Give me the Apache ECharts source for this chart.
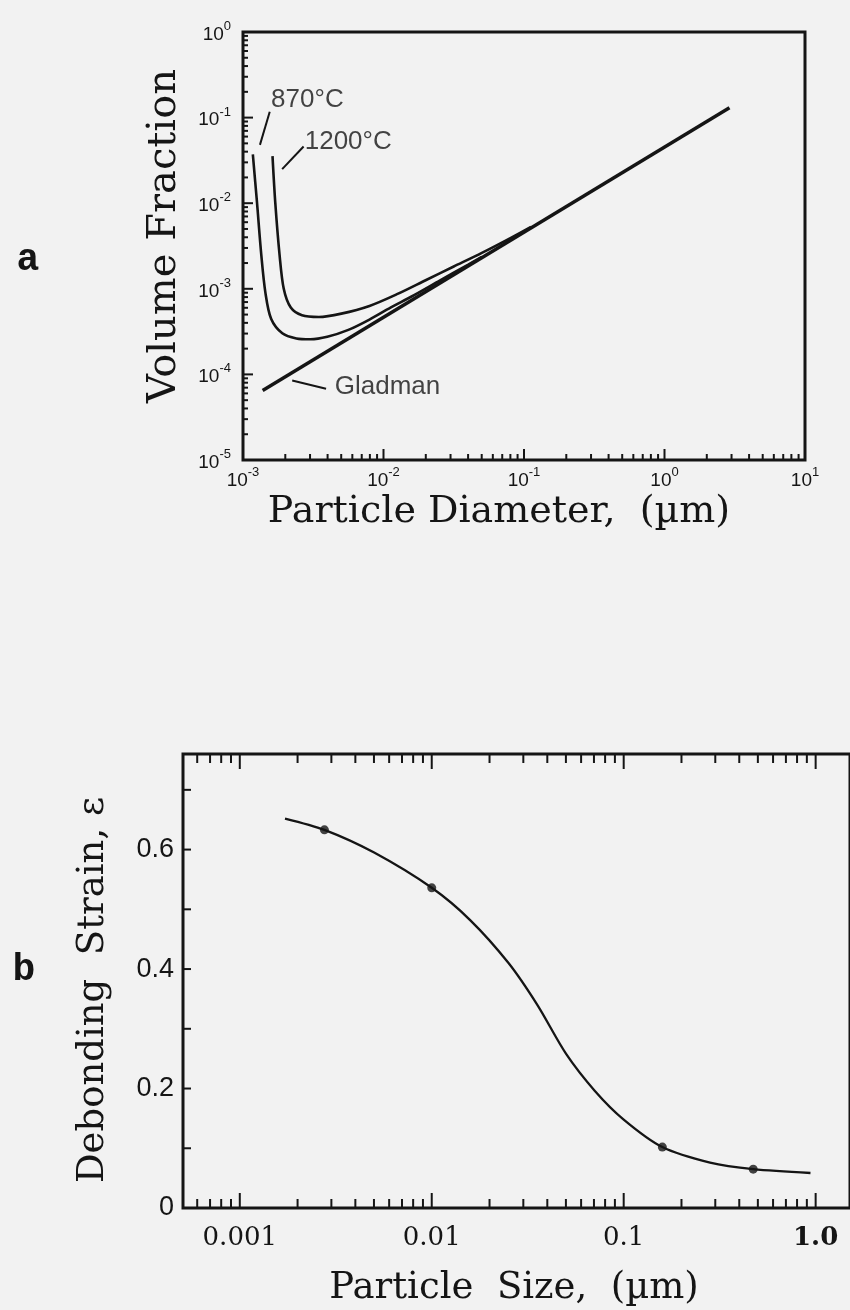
<!DOCTYPE html>
<html><head><meta charset="utf-8">
<script src="https://cdn.jsdelivr.net/npm/echarts@6/dist/echarts.min.js"></script>
<style>html,body{margin:0;padding:0;background:#f2f2f2}#c{width:850px;height:1310px}</style>
</head><body><div id="c"></div>
<script>
// ---------- Chart a: Volume Fraction vs Particle Diameter (µm) ----------
const xTicksA = [0.001, 0.01, 0.1, 1, 10];
const yTicksA = [1e-5, 1e-4, 1e-3, 1e-2, 1e-1, 1];
const gladmanX = [0.00138, 2.9];
const gladmanY = [6.5e-5, 0.13];
const c870X = [0.001175, 0.001259, 0.001349, 0.001445, 0.001585, 0.001905, 0.002399, 0.00302, 0.003981, 0.005623, 0.007943, 0.01122, 0.01585, 0.02512, 0.03981, 0.0501];
const c870Y = [0.0372, 0.0100, 0.00251, 0.000891, 0.000447, 0.000302, 0.000263, 0.000257, 0.000275, 0.000331, 0.000437, 0.000603, 0.000813, 0.001245, 0.001905, 0.00236];
const c1200X = [0.001622, 0.001698, 0.00182, 0.00195, 0.002188, 0.00263, 0.003467, 0.005012, 0.007943, 0.01259, 0.01995, 0.03162, 0.05012, 0.07943, 0.1122];
const c1200Y = [0.0355, 0.0100, 0.00251, 0.00100, 0.000603, 0.00049, 0.000468, 0.000513, 0.000631, 0.000871, 0.001259, 0.00182, 0.00263, 0.00389, 0.00530];

// ---------- Chart b: Debonding Strain vs Particle Size (µm) ----------
const xTicksB = [0.001, 0.01, 0.1, 1];
const yTicksB = [0, 0.2, 0.4, 0.6];
const sizeB   = [0.00172, 0.00276, 0.00501, 0.01, 0.01585, 0.02512, 0.03548, 0.05012, 0.07079, 0.1, 0.159, 0.2818, 0.473, 0.94];
const strainB = [0.652, 0.633, 0.595, 0.536, 0.482, 0.410, 0.340, 0.258, 0.196, 0.148, 0.102, 0.076, 0.065, 0.0586];
const markX = [0.00276, 0.01, 0.159, 0.473];
const markY = [0.633, 0.536, 0.102, 0.065];

const INK = '#151515';
const zip = (a, b) => a.map((v, i) => [v, b[i]]);
function decadeMinors(lo, hi) {
  const out = [];
  for (let e = -6; e <= 2; e++) for (let k = 2; k <= 9; k++) {
    const v = k * Math.pow(10, e);
    if (v > lo * 1.0001 && v < hi * 0.9999) out.push(v);
  }
  return out;
}
function tickSeries(gi, dir, bound, values, len) {
  return {
    type: 'custom', xAxisIndex: gi, yAxisIndex: gi, silent: true, clip: false, z: 5,
    data: values.map(v => dir === 'left' ? [bound, v] : [v, bound]),
    renderItem: (params, api) => {
      const p = api.coord([api.value(0), api.value(1)]);
      let dx = 0, dy = 0;
      if (dir === 'bottom') dy = -len; else if (dir === 'top') dy = len; else dx = len;
      return { type: 'line', shape: { x1: p[0], y1: p[1], x2: p[0] + dx, y2: p[1] + dy },
               style: { stroke: INK, lineWidth: 2 } };
    }
  };
}
function textSeries(gi, x, y, txt, size) {
  return { type: 'scatter', xAxisIndex: gi, yAxisIndex: gi, symbolSize: 0, silent: true,
    data: [[x, y]],
    label: { show: true, position: 'right', distance: 0, formatter: txt,
             fontFamily: 'Liberation Sans', fontSize: size, color: INK } };
}
function leader(gi, pts) {
  return { type: 'line', xAxisIndex: gi, yAxisIndex: gi, data: pts, symbol: 'none', silent: true,
           lineStyle: { color: INK, width: 2 } };
}
const supFmt = v => '{b|10}{s|' + Math.round(Math.log10(v)) + '}';
const supRich = { b: { fontSize: 19, fontFamily: 'Liberation Sans', color: INK, lineHeight: 24, verticalAlign: 'bottom' },
                  s: { fontSize: 13, fontFamily: 'Liberation Sans', color: INK, lineHeight: 24, verticalAlign: 'top' } };

const XA = [0.001, 10], YA = [1e-5, 1];
const XB = [0.000506, 1.51], YB = [0, 0.76];

const chart = echarts.init(document.getElementById('c'), null, { renderer: 'canvas' });
chart.setOption({
  backgroundColor: '#f2f2f2',
  animation: false,
  grid: [
    { left: 243, top: 32, width: 562, height: 428, show: true, borderColor: INK, borderWidth: 3, backgroundColor: 'transparent' },
    { left: 183, top: 754, width: 669, height: 454, show: true, borderColor: INK, borderWidth: 3, backgroundColor: 'transparent' }
  ],
  xAxis: [
    { gridIndex: 0, type: 'log', min: XA[0], max: XA[1], axisLine: { show: false }, axisTick: { show: false }, splitLine: { show: false },
      axisLabel: { customValues: xTicksA, formatter: supFmt, rich: supRich, margin: 6 } },
    { gridIndex: 1, type: 'log', min: XB[0], max: XB[1], axisLine: { show: false }, axisTick: { show: false }, splitLine: { show: false },
      axisLabel: { customValues: xTicksB, margin: 17, fontFamily: 'DejaVu Serif', fontSize: 26, color: INK,
                   formatter: v => v === 1 ? '{bb|1.0}' : String(v),
                   rich: { bb: { fontFamily: 'DejaVu Serif', fontWeight: 'bold', fontSize: 26, color: INK } } } }
  ],
  yAxis: [
    { gridIndex: 0, type: 'log', min: YA[0], max: YA[1], axisLine: { show: false }, axisTick: { show: false }, splitLine: { show: false },
      axisLabel: { customValues: yTicksA, formatter: supFmt, rich: supRich, margin: 12 } },
    { gridIndex: 1, type: 'value', min: YB[0], max: YB[1], axisLine: { show: false }, axisTick: { show: false }, splitLine: { show: false },
      axisLabel: { customValues: yTicksB, margin: 9, fontFamily: 'Liberation Sans', fontSize: 27, color: INK,
                   formatter: v => v === 0 ? '0' : v.toFixed(1) } }
  ],
  graphic: [
    { type: 'text', x: 28, y: 260, style: { text: 'a', font: 'bold 38px "Liberation Mono"', fill: INK, align: 'center', verticalAlign: 'middle' } },
    { type: 'text', x: 165, y: 236, rotation: Math.PI / 2, style: { text: 'Volume Fraction', font: '40px "DejaVu Serif"', fill: INK, align: 'center', verticalAlign: 'middle' } },
    { type: 'text', x: 499, y: 512, style: { text: 'Particle Diameter,  (\u00b5m)', font: '38px "DejaVu Serif"', fill: INK, align: 'center', verticalAlign: 'middle' } },
    { type: 'text', x: 24, y: 970, style: { text: 'b', font: 'bold 38px "Liberation Mono"', fill: INK, align: 'center', verticalAlign: 'middle' } },
    { type: 'text', x: 93, y: 990, rotation: Math.PI / 2, style: { text: 'Debonding  Strain, \u03b5', font: '37px "DejaVu Serif"', fill: INK, align: 'center', verticalAlign: 'middle' } },
    { type: 'text', x: 514, y: 1288, style: { text: 'Particle  Size,  (\u00b5m)', font: '37px "DejaVu Serif"', fill: INK, align: 'center', verticalAlign: 'middle' } }
  ],
  series: [
    // chart a curves
    { type: 'line', xAxisIndex: 0, yAxisIndex: 0, data: zip(gladmanX, gladmanY), symbol: 'none', lineStyle: { color: INK, width: 3.5 } },
    { type: 'line', xAxisIndex: 0, yAxisIndex: 0, data: zip(c870X, c870Y), symbol: 'none', smooth: 0.3, lineStyle: { color: INK, width: 2.6 } },
    { type: 'line', xAxisIndex: 0, yAxisIndex: 0, data: zip(c1200X, c1200Y), symbol: 'none', smooth: 0.3, lineStyle: { color: INK, width: 2.6 } },
    textSeries(0, 0.001585, 0.162, '870\u00b0C', 26),
    textSeries(0, 0.00275, 0.052, '1200\u00b0C', 26),
    textSeries(0, 0.0045, 7.1e-5, 'Gladman', 26),
    leader(0, [[0.00155, 0.117], [0.00132, 0.048]]),
    leader(0, [[0.0027, 0.046], [0.0019, 0.025]]),
    leader(0, [[0.00224, 8.5e-5], [0.0039, 6.8e-5]]),
    tickSeries(0, 'bottom', YA[0], xTicksA, 11),
    tickSeries(0, 'bottom', YA[0], decadeMinors(XA[0], XA[1]), 6),
    tickSeries(0, 'left', XA[0], yTicksA, 10),
    tickSeries(0, 'left', XA[0], decadeMinors(YA[0], YA[1]), 5),
    // chart b
    { type: 'line', xAxisIndex: 1, yAxisIndex: 1, data: zip(sizeB, strainB), symbol: 'none', smooth: 0.3, lineStyle: { color: INK, width: 2.3 } },
    { type: 'scatter', xAxisIndex: 1, yAxisIndex: 1, data: zip(markX, markY), symbol: 'circle', symbolSize: 9, itemStyle: { color: INK } },
    tickSeries(1, 'bottom', YB[0], xTicksB, 15),
    tickSeries(1, 'bottom', YB[0], decadeMinors(XB[0], XB[1]), 9),
    tickSeries(1, 'top', YB[1], xTicksB, 15),
    tickSeries(1, 'top', YB[1], decadeMinors(XB[0], XB[1]), 9),
    tickSeries(1, 'left', XB[0], [0.1, 0.2, 0.3, 0.4, 0.5, 0.6, 0.7], 8)
  ]
});
</script>
</body></html>
